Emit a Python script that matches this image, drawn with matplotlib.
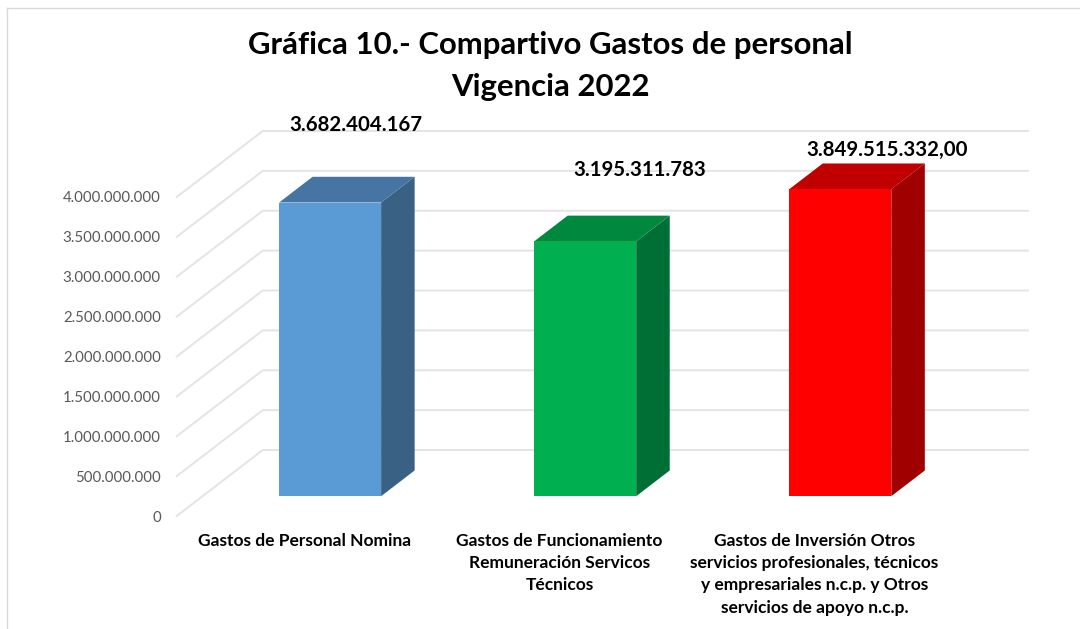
import numpy as np
import matplotlib
matplotlib.use("Agg")
import matplotlib.pyplot as plt

# values
categories = ["Gastos de Personal Nomina",
              "Gastos de Funcionamiento\nRemuneración Servicos\nTécnicos",
              "Gastos de Inversión Otros\nservicios profesionales, técnicos\ny empresariales n.c.p. y Otros\nservicios de apoyo n.c.p."]
values = [3682404167, 3195311783, 3849515332]
value_labels = ["3.682.404.167", "3.195.311.783", "3.849.515.332,00"]
yticks = [0, 500000000, 1000000000, 1500000000, 2000000000,
          2500000000, 3000000000, 3500000000, 4000000000]
ytick_labels = ["0", "500.000.000", "1.000.000.000", "1.500.000.000", "2.000.000.000",
                "2.500.000.000", "3.000.000.000", "3.500.000.000", "4.000.000.000"]

# front, top, side colours
front_colors = ["#5B9BD5", "#00B050", "#FF0000"]
top_colors = ["#4775A3", "#00893E", "#C00000"]
side_colors = ["#386184", "#006F35", "#A00000"]
# label offset from the bar top, pixels
label_dx = [26, 55, 47]
label_dy = [78, 71, 39]

W, H = 1080, 629
plt.rcParams['font.family'] = ['Lato', 'DejaVu Sans']

fig = plt.figure(figsize=(W / 100, H / 100), dpi=100)
ax = fig.add_axes([176.75 / W, (H - 516) / H, 765.25 / W, 319 / H])
ax.set_xlim(-0.5, 2.5)
ax.set_ylim(0, 4000000000)

# 3D depth of the chart box in data units
depth_x = 86 / 765.25 * 3
depth_y = 66 / 319 * 4000000000
bar_start = 0.30
bar_depth = 0.39
bar_width = 0.40

for v in yticks:
    ax.plot([-0.5, -0.5 + depth_x, 2.5 + depth_x], [v, v + depth_y, v + depth_y],
            color="#E4E4E4", lw=1.4, clip_on=False, zorder=1)

x = np.arange(len(categories)) + bar_start * depth_x
base = bar_start * depth_y
ax.bar(x, values, bar_width, bottom=base, color=front_colors, zorder=3, clip_on=False)
ddx = bar_depth * depth_x
ddy = bar_depth * depth_y
for i in range(len(values)):
    l = x[i] - bar_width / 2
    r = x[i] + bar_width / 2
    t = base + values[i]
    ax.fill([r, r + ddx, r + ddx, r], [base, base + ddy, t + ddy, t],
            color=side_colors[i], lw=0, clip_on=False, zorder=2)
    ax.fill([l, l + ddx, r + ddx, r], [t, t + ddy, t + ddy, t],
            color=top_colors[i], lw=0, clip_on=False, zorder=2)
    ax.annotate(value_labels[i], (x[i], t), xytext=(label_dx[i] * 0.72, label_dy[i] * 0.72),
                textcoords="offset points", ha="center", va="center", annotation_clip=False,
                fontsize=14.7, fontweight="bold", color="black", zorder=5)

ax.set_xticks(range(len(categories)))
ax.set_xticklabels(categories, fontsize=12.5, fontweight="bold", color="black", linespacing=1.49)
ax.set_yticks(yticks)
ax.set_yticklabels(ytick_labels, fontsize=10.8, color="#595959")
ax.tick_params(axis="both", length=0)
ax.tick_params(axis="x", pad=12)
ax.tick_params(axis="y", pad=11.5)
for s in ax.spines.values():
    s.set_visible(False)
ax.patch.set_alpha(0)

fig.text(550 / W, 1 - 45 / H, "Gráfica 10.- Compartivo Gastos de personal",
         fontsize=22.4, fontweight="bold", ha="center", va="center", color="black")
fig.text(550 / W, 1 - 87 / H, "Vigencia 2022",
         fontsize=22.4, fontweight="bold", ha="center", va="center", color="black")

# chart frame
fig.add_artist(plt.Line2D([7 / W, 7 / W], [0, 1 - 8 / H], color="#D9D9D9", lw=1))
fig.add_artist(plt.Line2D([7 / W, 1], [1 - 8 / H, 1 - 8 / H], color="#D9D9D9", lw=1))

fig.savefig("out.png", dpi=100)
